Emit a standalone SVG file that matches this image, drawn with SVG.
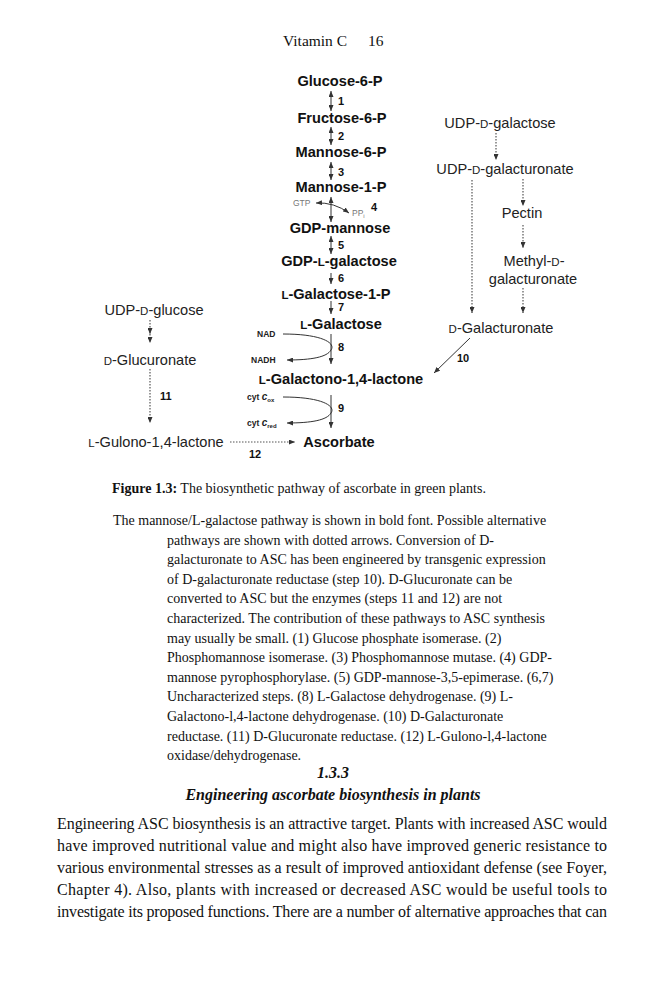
<svg xmlns="http://www.w3.org/2000/svg" width="666" height="1000" viewBox="0 0 666 1000">
<style>
.bg{fill:#fff}
.main{font-family:"Liberation Sans",Arial,sans-serif;font-weight:bold;font-size:14.6px;fill:#111;text-anchor:middle}
.side{font-family:"Liberation Sans",Arial,sans-serif;font-size:14.6px;fill:#222;text-anchor:middle}
.num{font-family:"Liberation Sans",Arial,sans-serif;font-weight:bold;font-size:11px;fill:#111}
.sm{font-family:"Liberation Sans",Arial,sans-serif;font-size:8.5px;fill:#777}
.smb{font-family:"Liberation Sans",Arial,sans-serif;font-weight:bold;font-size:8.5px;fill:#222}
.ser{font-family:"Liberation Serif","Times New Roman",serif;fill:#111}
.sol{stroke:#333;stroke-width:1;fill:none}
.dot{stroke:#555;stroke-width:1.2;stroke-dasharray:1.5 1.5;fill:none}
</style>
<defs>
<marker id="ah" markerUnits="userSpaceOnUse" markerWidth="6" markerHeight="5" refX="6" refY="2.5" orient="auto-start-reverse">
<path d="M0,0 L6,2.5 L0,5 z" fill="#333"/>
</marker>
</defs>
<rect class="bg" x="0" y="0" width="666" height="1000"/>
<text class="ser" x="283" y="46" font-size="15.5">Vitamin C</text>
<text class="ser" x="368" y="46" font-size="15.5">16</text>

<g id="connectors">
<line class="sol" x1="331" y1="91" x2="331" y2="111" marker-start="url(#ah)" marker-end="url(#ah)"/>
<line class="sol" x1="331" y1="127" x2="331" y2="145" marker-start="url(#ah)" marker-end="url(#ah)"/>
<line class="sol" x1="331" y1="162" x2="331" y2="180" marker-start="url(#ah)" marker-end="url(#ah)"/>
<line class="sol" x1="331" y1="197" x2="331" y2="222" marker-start="url(#ah)" marker-end="url(#ah)"/>
<path class="sol" d="M316,203 Q334,202 349,213" marker-start="url(#ah)" marker-end="url(#ah)"/>
<line class="sol" x1="331" y1="236" x2="331" y2="254" marker-start="url(#ah)" marker-end="url(#ah)"/>
<line class="sol" x1="331" y1="273" x2="331" y2="284" marker-end="url(#ah)"/>
<line class="sol" x1="331" y1="301" x2="331" y2="314" marker-end="url(#ah)"/>
<line class="sol" x1="331" y1="334" x2="331" y2="364" marker-end="url(#ah)"/>
<path class="sol" d="M283,334 C322,334 336,343 331,350 C327,357 312,360 287,360" marker-end="url(#ah)"/>
<line class="sol" x1="331" y1="395" x2="331" y2="428" marker-end="url(#ah)"/>
<path class="sol" d="M283,397 C322,397 336,406 331,413 C327,420 312,423 287,423" marker-end="url(#ah)"/>
<line class="sol" x1="470" y1="338" x2="434" y2="373" marker-end="url(#ah)"/>
<line class="dot" x1="150" y1="320" x2="150" y2="334" marker-end="url(#ah)"/>
<line class="dot" x1="150" y1="334" x2="150" y2="343" marker-end="url(#ah)"/>
<line class="dot" x1="150" y1="369" x2="150" y2="423" marker-end="url(#ah)"/>
<line class="dot" x1="230" y1="442" x2="295" y2="442" marker-end="url(#ah)"/>
<line class="dot" x1="496" y1="133" x2="496" y2="160" marker-end="url(#ah)"/>
<line class="dot" x1="472" y1="180" x2="472" y2="313" marker-end="url(#ah)"/>
<line class="dot" x1="523" y1="179" x2="523" y2="206" marker-end="url(#ah)"/>
<line class="dot" x1="523" y1="225" x2="523" y2="248" marker-end="url(#ah)"/>
<line class="dot" x1="523" y1="288" x2="523" y2="313" marker-end="url(#ah)"/>
</g>

<g id="n-g6p"><text class="main" x="340" y="86">Glucose-6-P</text></g>
<g id="n-f6p"><text class="main" x="342" y="123">Fructose-6-P</text></g>
<g id="n-m6p"><text class="main" x="341" y="157">Mannose-6-P</text></g>
<g id="n-m1p"><text class="main" x="341" y="192">Mannose-1-P</text></g>
<g id="n-gdpm"><text class="main" x="340" y="233">GDP-mannose</text></g>
<g id="n-gdpl"><text class="main" x="339" y="266">GDP-<tspan font-size="11.5">L</tspan>-galactose</text></g>
<g id="n-lg1p"><text class="main" x="336" y="299"><tspan font-size="11.5">L</tspan>-Galactose-1-P</text></g>
<g id="n-lgal"><text class="main" x="341" y="329"><tspan font-size="11.5">L</tspan>-Galactose</text></g>
<g id="n-lgl"><text class="main" x="341" y="384"><tspan font-size="11.5">L</tspan>-Galactono-1,4-lactone</text></g>
<g id="n-asc"><text class="main" x="339" y="447" font-size="15.5">Ascorbate</text></g>

<g id="n-udpglc"><text class="side" x="154" y="315">UDP-<tspan font-size="11.5">D</tspan>-glucose</text></g>
<g id="n-dglcA"><text class="side" x="150" y="365"><tspan font-size="11.5">D</tspan>-Glucuronate</text></g>
<g id="n-lgul"><text class="side" x="156" y="447"><tspan font-size="11.5">L</tspan>-Gulono-1,4-lactone</text></g>
<g id="n-udpgal"><text class="side" x="500" y="128">UDP-<tspan font-size="11.5">D</tspan>-galactose</text></g>
<g id="n-udpgalA"><text class="side" x="505" y="174">UDP-<tspan font-size="11.5">D</tspan>-galacturonate</text></g>
<g id="n-pectin"><text class="side" x="522" y="218">Pectin</text></g>
<g id="n-methyl"><text class="side" x="534" y="266">Methyl-<tspan font-size="11.5">D</tspan>-</text><text class="side" x="533" y="284">galacturonate</text></g>
<g id="n-dgalA"><text class="side" x="501" y="333"><tspan font-size="11.5">D</tspan>-Galacturonate</text></g>

<g id="cofactors">
<text class="sm" x="293" y="206">GTP</text>
<text class="sm" x="352" y="216">PP<tspan font-size="6" dy="2">i</tspan></text>
<text class="smb" x="257" y="337">NAD</text>
<text class="smb" x="251" y="363">NADH</text>
<text class="smb" x="247" y="400">cyt <tspan font-style="italic" font-size="10">c</tspan><tspan font-size="6" dy="2">ox</tspan></text>
<text class="smb" x="247" y="426">cyt <tspan font-style="italic" font-size="10">c</tspan><tspan font-size="6" dy="2">red</tspan></text>
</g>

<g id="steps">
<text class="num" x="338" y="105">1</text>
<text class="num" x="338" y="140">2</text>
<text class="num" x="338" y="176">3</text>
<text class="num" x="371" y="211">4</text>
<text class="num" x="338" y="249">5</text>
<text class="num" x="338" y="282">6</text>
<text class="num" x="338" y="311">7</text>
<text class="num" x="338" y="351">8</text>
<text class="num" x="338" y="412">9</text>
<text class="num" x="457" y="362">10</text>
<text class="num" x="160" y="400">11</text>
<text class="num" x="249" y="458">12</text>
</g>

<g id="caption" class="ser" font-size="14">
<text x="112" y="493"><tspan font-weight="bold">Figure 1.3:</tspan> The biosynthetic pathway of ascorbate in green plants.</text>
<text x="113" y="525">The mannose/L-galactose pathway is shown in bold font. Possible alternative</text>
<text x="167" y="544.6">pathways are shown with dotted arrows. Conversion of D-</text>
<text x="167" y="564.2">galacturonate to ASC has been engineered by transgenic expression</text>
<text x="167" y="583.8">of D-galacturonate reductase (step 10). D-Glucuronate can be</text>
<text x="167" y="603.4">converted to ASC but the enzymes (steps 11 and 12) are not</text>
<text x="167" y="623">characterized. The contribution of these pathways to ASC synthesis</text>
<text x="167" y="642.6">may usually be small. (1) Glucose phosphate isomerase. (2)</text>
<text x="167" y="662.2">Phosphomannose isomerase. (3) Phosphomannose mutase. (4) GDP-</text>
<text x="167" y="681.8">mannose pyrophosphorylase. (5) GDP-mannose-3,5-epimerase. (6,7)</text>
<text x="167" y="701.4">Uncharacterized steps. (8) L-Galactose dehydrogenase. (9) L-</text>
<text x="167" y="721">Galactono-l,4-lactone dehydrogenase. (10) D-Galacturonate</text>
<text x="167" y="740.6">reductase. (11) D-Glucuronate reductase. (12) L-Gulono-l,4-lactone</text>
<text x="167" y="760.2">oxidase/dehydrogenase.</text>
</g>

<g id="section" class="ser" font-size="16" font-weight="bold" font-style="italic" text-anchor="middle">
<text x="333" y="778">1.3.3</text>
<text x="333" y="800">Engineering ascorbate biosynthesis in plants</text>
</g>

<g id="body" class="ser" font-size="16">
<text x="57" y="829" textLength="550" lengthAdjust="spacing">Engineering ASC biosynthesis is an attractive target. Plants with increased ASC would</text>
<text x="57" y="851" textLength="550" lengthAdjust="spacing">have improved nutritional value and might also have improved generic resistance to</text>
<text x="57" y="873" textLength="550" lengthAdjust="spacing">various environmental stresses as a result of improved antioxidant defense (see Foyer,</text>
<text x="57" y="895" textLength="550" lengthAdjust="spacing">Chapter 4). Also, plants with increased or decreased ASC would be useful tools to</text>
<text x="57" y="917" textLength="550" lengthAdjust="spacing">investigate its proposed functions. There are a number of alternative approaches that can</text>
</g>
</svg>
